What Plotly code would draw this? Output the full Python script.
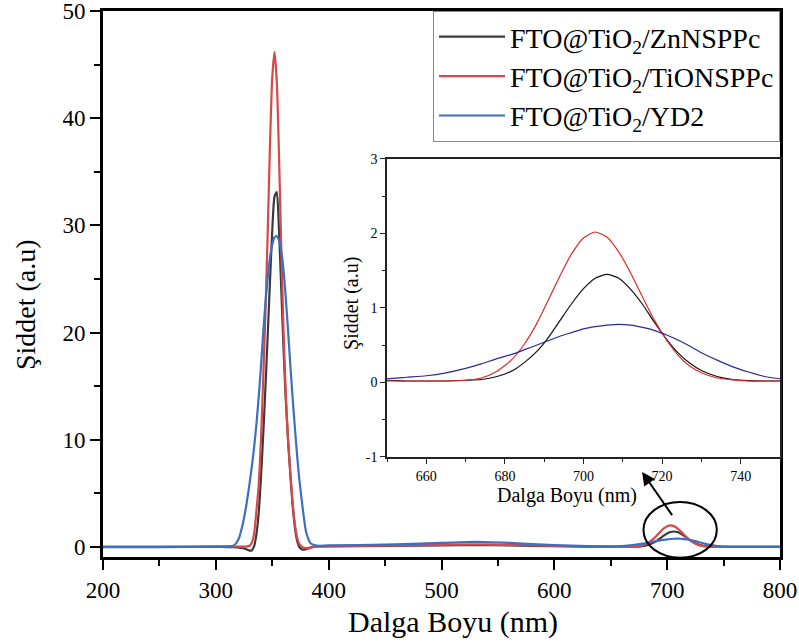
import plotly.graph_objects as go

# Emission spectra of the three sensitised FTO@TiO2 films
wavelength = [200, 250, 300, 310, 316, 320, 324, 327, 330, 332,
              334, 336, 338, 340, 342, 344, 346, 348, 350, 352,
              354, 356, 358, 360, 362, 364, 366, 368, 370, 372,
              374, 377, 380, 384, 388, 392, 400, 450, 500, 530,
              560, 600, 630,
              650, 655, 660, 665, 670, 674, 678, 682, 685, 688,
              691, 694, 697, 700, 703, 706, 709, 712, 715, 718,
              721, 724, 727, 730, 734, 738, 742, 746, 750,
              770, 800]

zn_nsppc = [0.02, 0.02, 0.02, 0.0, -0.02, -0.05, -0.1, -0.2, -0.33, -0.3,
            0.1, 1.2, 3.2, 6.5, 10.5, 15.0, 19.8, 24.8, 29.5, 32.7,
            33.1, 29.5, 24.0, 18.5, 13.8, 10.0, 6.8, 4.0, 1.9, 0.6,
            0.0, -0.25, -0.2, -0.05, 0.03, 0.05, 0.06, 0.1, 0.15, 0.18,
            0.15, 0.08, 0.04,
            0.03, 0.02, 0.02, 0.02, 0.03, 0.04, 0.08, 0.16, 0.27, 0.41,
            0.60, 0.83, 1.06, 1.26, 1.40, 1.45, 1.40, 1.25, 1.05, 0.81,
            0.59, 0.40, 0.26, 0.16, 0.08, 0.04, 0.025, 0.02, 0.02,
            0.02, 0.02]

tion_sppc = [0.02, 0.02, 0.03, 0.03, 0.03, 0.03, 0.03, 0.04, 0.12, 0.45,
             1.3, 3.4, 5.8, 10.0, 15.7, 22.0, 29.5, 37.5, 43.8, 46.2,
             43.5, 36.5, 27.8, 20.2, 14.2, 10.0, 7.0, 4.2, 2.2, 0.9,
             0.3, -0.05, -0.1, -0.05, 0.03, 0.05, 0.08, 0.12, 0.2, 0.25,
             0.2, 0.1, 0.05,
             0.02, 0.02, 0.02, 0.02, 0.03, 0.06, 0.15, 0.32, 0.52, 0.78,
             1.10, 1.43, 1.73, 1.94, 2.02, 1.95, 1.75, 1.47, 1.15, 0.84,
             0.58, 0.37, 0.22, 0.13, 0.06, 0.035, 0.02, 0.02, 0.02,
             0.02, 0.02]

yd2 = [0.0, 0.0, 0.03, 0.06, 0.15, 0.7, 2.2, 3.9, 6.0, 7.6,
       9.4, 11.5, 14.0, 16.8, 20.0, 22.8, 25.2, 27.0, 28.2, 28.9,
       29.0, 28.6, 27.6, 25.8, 23.2, 20.2, 17.0, 14.0, 11.2, 8.6,
       6.3, 3.6, 1.4, 0.35, 0.15, 0.12, 0.15, 0.22, 0.38, 0.48,
       0.38, 0.18, 0.08,
       0.05, 0.07, 0.09, 0.13, 0.19, 0.25, 0.32, 0.38, 0.44, 0.50,
       0.56, 0.62, 0.67, 0.72, 0.75, 0.77, 0.78, 0.77, 0.74, 0.70,
       0.64, 0.57, 0.49, 0.40, 0.30, 0.21, 0.14, 0.08, 0.05,
       0.02, 0.02]

series_names = ["FTO@TiO<sub>2</sub>/ZnNSPPc",
                "FTO@TiO<sub>2</sub>/TiONSPPc",
                "FTO@TiO<sub>2</sub>/YD2"]
series_values = [zn_nsppc, tion_sppc, yd2]
main_colors = ["#3a3a3a", "#d8474a", "#3d6fc0"]
inset_colors = ["#111111", "#dd2a2a", "#2a2a96"]

SERIF = "Liberation Serif"

fig = go.Figure()

for name, vals, col in zip(series_names, series_values, main_colors):
    fig.add_trace(go.Scatter(
        x=wavelength, y=vals, name=name, mode="lines",
        line=dict(color=col, width=2.2, shape="spline", smoothing=0.6),
        xaxis="x", yaxis="y"))

for name, vals, col in zip(series_names, series_values, inset_colors):
    fig.add_trace(go.Scatter(
        x=wavelength, y=vals, name=name, mode="lines", showlegend=False,
        line=dict(color=col, width=1.2, shape="spline", smoothing=0.6),
        xaxis="x2", yaxis="y2"))

tick_font = dict(family=SERIF, size=23, color="black")
inset_font = dict(family=SERIF, size=14, color="black")

fig.update_layout(
    width=799, height=644,
    margin=dict(l=103, r=19, t=11, b=87, pad=0, autoexpand=False),
    paper_bgcolor="white", plot_bgcolor="white",
    font=dict(family=SERIF, color="black"),
    xaxis=dict(
        domain=[0, 1], range=[200, 800], dtick=100, tick0=0, automargin=False,
        ticklabeloverflow="allow",
        showline=True, linecolor="black", linewidth=3, mirror=True,
        ticks="outside", ticklen=10, tickwidth=2, tickcolor="black",
        minor=dict(dtick=50, ticks="outside", ticklen=6, tickwidth=2, tickcolor="black"),
        showgrid=False, zeroline=False, tickfont=tick_font,
    ),
    yaxis=dict(
        domain=[0, 1], range=[-0.93, 50], dtick=10, tick0=0, automargin=False,
        ticklabeloverflow="allow",
        showline=True, linecolor="black", linewidth=3, mirror=True,
        ticks="outside", ticklen=10, tickwidth=2, tickcolor="black",
        minor=dict(dtick=5, ticks="outside", ticklen=6, tickwidth=2, tickcolor="black"),
        showgrid=False, zeroline=False, tickfont=tick_font,
    ),
    xaxis2=dict(
        domain=[0.4195, 1.0], anchor="y2", range=[650, 750], dtick=20, tick0=0,
        automargin=False, ticklabeloverflow="allow",
        showline=True, linecolor="#222", linewidth=1.5, mirror=True,
        ticks="outside", ticklen=5, tickwidth=1.2, tickcolor="#222",
        minor=dict(dtick=10, ticks="outside", ticklen=3, tickwidth=1.2, tickcolor="#222"),
        showgrid=False, zeroline=False, tickfont=inset_font,
    ),
    yaxis2=dict(
        domain=[0.1832, 0.729], anchor="x2", range=[-1, 3], automargin=False,
        ticklabeloverflow="allow",
        tickvals=[-1, 0, 1, 2, 3], ticktext=["-1", "0", "1", "2", "3"],
        showline=True, linecolor="#222", linewidth=1.5, mirror=True,
        ticks="outside", ticklen=5, tickwidth=1.2, tickcolor="#222",
        minor=dict(dtick=0.5, ticks="outside", ticklen=3, tickwidth=1.2, tickcolor="#222"),
        showgrid=False, zeroline=False, tickfont=inset_font,
    ),
    legend=dict(
        x=1, y=1, xanchor="right", yanchor="top",
        bgcolor="white", bordercolor="#8a8a8a", borderwidth=1,
        font=dict(family=SERIF, size=28, color="black"),
        itemwidth=66, tracegroupgap=0,
    ),
)

# axis titles
title_kw = dict(xref="paper", yref="paper", showarrow=False,
                xanchor="center", yanchor="middle")
fig.add_annotation(text="Dalga Boyu (nm)", x=0.517, y=-0.119,
                   font=dict(family=SERIF, size=30, color="black"), **title_kw)
fig.add_annotation(text="Şiddet (a.u)", x=-0.1152, y=0.4615, textangle=-90,
                   font=dict(family=SERIF, size=28, color="black"), **title_kw)
fig.add_annotation(text="Dalga Boyu (nm)", x=0.6854, y=0.112,
                   font=dict(family=SERIF, size=20, color="black"), **title_kw)
fig.add_annotation(text="Şiddet (a.u)", x=0.3678, y=0.4634, textangle=-90,
                   font=dict(family=SERIF, size=20, color="black"), **title_kw)

# highlight of the 700 nm band and pointer to the magnified view
fig.add_shape(type="circle", xref="x", yref="y",
              x0=679, x1=744, y0=-1.0, y1=4.2,
              line=dict(color="black", width=2))
fig.add_annotation(x=677.8, y=7.0, ax=705.3, ay=2.83,
                   xref="x", yref="y", axref="x", ayref="y",
                   text="", showarrow=True, arrowhead=2, arrowsize=1.3,
                   arrowwidth=2, arrowcolor="black")

fig.write_html("out.html")
